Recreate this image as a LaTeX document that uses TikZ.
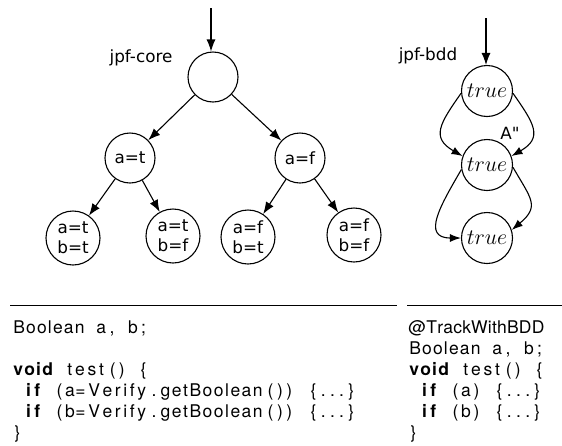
\documentclass[tikz,border=0pt]{standalone}
\usepackage{fix-cm}
\usepackage{fontspec}
\usepackage{listings}
\usetikzlibrary{arrows.meta,positioning}

\newfontfamily\diagfont{DejaVu Sans}
\newfontfamily\codefont{TeX Gyre Heros}

\lstset{language=Java, basicstyle=\codefont\fontsize{17.5}{21}\selectfont,
  keywordstyle=\bfseries, columns=fixed, aboveskip=0pt, belowskip=0pt,
  showstringspaces=false}

\begin{document}
\begin{tikzpicture}[
  x=1pt, y=-1pt, on grid,
  state/.style={draw, circle, line width=1.1pt, inner sep=0pt, minimum size=50pt, align=center, font=\diagfont\fontsize{16.8}{20}\selectfont},
  leaf/.style={state, minimum size=54pt},
  bdd/.style={state, minimum size=51pt, font=\fontsize{22}{26}\selectfont},
  lbltext/.style={font=\diagfont\fontsize{16.8}{20}\selectfont, inner sep=0pt},
  code/.style={anchor=north west, inner sep=0pt, align=left},
  arrow/.style={-{Latex[length=12pt,width=9pt]}, line width=1.1pt},
  bddarrow/.style={-{Latex[length=11pt,width=8pt]}, line width=1.1pt, looseness=1.5},
  rule/.style={line width=0.9pt}
]
\useasboundingbox (0,0) rectangle (562,445);

% explicit-state tree
\node[state] (root) at (213,77) {};
\node[lbltext] (core) at (141,58) {jpf-core};
\node[state, below left=81pt and 83pt of root] (at) {a=t};
\node[state, below right=81pt and 87pt of root] (af) {a=f};
\node[leaf, below left=80pt and 57pt of at] (tt) {a=t\\b=t};
\node[leaf, below right=78pt and 43pt of at] (tf) {a=t\\b=f};
\node[leaf, below left=79pt and 52pt of af] (ft) {a=f\\b=t};
\node[leaf, below right=77pt and 54pt of af] (ff) {a=f\\b=f};
\coordinate (rootin) at (211,8);

\draw[arrow] (rootin) -- (rootin |- root.north);
\draw[arrow] (root) -- (at);
\draw[arrow] (root) -- (af);
\draw[arrow] (at) -- (tt);
\draw[arrow] (at) -- (tf);
\draw[arrow] (af) -- (ft);
\draw[arrow] (af) -- (ff);

% symbolic states
\node[bdd] (t1) at (487,91) {$true$};
\node[bdd, below=74pt of t1] (t2) {$true$};
\node[bdd, below=73pt of t2] (t3) {$true$};
\node[lbltext] (bddlbl) at (428,56) {jpf-bdd};
\node[lbltext] (merge) at (510,133) {A"};
\coordinate (bddin) at (486,18);

\draw[arrow] (bddin) -- (bddin |- t1.north);
\draw[bddarrow] (t1.185) to[out=235, in=150] (t2.160);
\draw[bddarrow] (t1.-5) to[out=-55, in=30] (t2.20);
\draw[bddarrow] (t2.190) to[out=240, in=180] (t3.west);
\draw[bddarrow] (t2.-5) to[out=-60, in=40] (t3.18);

% code
\draw[rule] (10,305) -- (397,305);
\draw[rule] (407,305) -- (562,305);
\node[code, text width=385pt] (codeL) at (12,312) {\begin{lstlisting}
Boolean a, b;

void test() {
 if (a=Verify.getBoolean()) {...}
 if (b=Verify.getBoolean()) {...}
}
\end{lstlisting}
};
\node[code, text width=154pt] (codeR) at (408,312) {\begin{lstlisting}
@TrackWithBDD
Boolean a, b;
void test() {
 if (a) {...}
 if (b) {...}
}
\end{lstlisting}
};
\end{tikzpicture}
\end{document}
